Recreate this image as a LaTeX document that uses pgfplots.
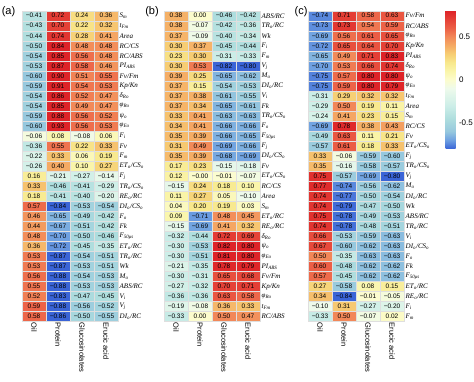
\documentclass[border=0pt]{standalone}
\usepackage{fontspec}
\setmainfont{Liberation Serif}
\setsansfont{Liberation Sans}
\usepackage{pgfplots}
\usepackage{pgfplotstable}
\pgfplotsset{compat=1.18}

\pgfdeclareplotmark{cell}{\pgfpathrectangle{\pgfpoint{-12pt}{-5.015pt}}{\pgfpoint{24pt}{10.03pt}}\pgfusepathqfillstroke}
\def\fixminus#1{\edef\fmtmp{#1}\expandafter\fixminusA\fmtmp\relax}
\def\fixminusA#1#2\relax{\ifx-#1−#2\else#1#2\fi}
\newcommand\s[2]{#1\textsubscript{#2}}

\pgfplotstableread{
c0 c1 c2 c3
-0.41 0.72 0.24 0.36
-0.43 0.70 0.22 0.32
-0.44 0.74 0.28 0.41
-0.50 0.84 0.48 0.48
-0.54 0.85 0.56 0.48
-0.53 0.87 0.58 0.46
-0.60 0.90 0.51 0.55
-0.59 0.91 0.54 0.53
-0.54 0.86 0.52 0.47
-0.54 0.85 0.49 0.47
-0.59 0.88 0.56 0.52
-0.60 0.93 0.56 0.53
-0.06 0.08 -0.08 0.06
-0.36 0.55 0.22 0.33
-0.22 0.33 0.06 0.19
-0.26 0.40 0.10 0.27
0.16 -0.21 -0.27 -0.14
0.33 -0.46 -0.41 -0.29
0.18 -0.41 -0.40 -0.20
0.57 -0.84 -0.53 -0.54
0.46 -0.65 -0.49 -0.42
0.44 -0.67 -0.51 -0.42
0.48 -0.70 -0.50 -0.46
0.36 -0.72 -0.45 -0.35
0.53 -0.87 -0.54 -0.51
0.53 -0.87 -0.53 -0.51
0.56 -0.88 -0.54 -0.53
0.55 -0.88 -0.53 -0.53
0.52 -0.83 -0.47 -0.45
0.59 -0.88 -0.56 -0.52
0.58 -0.86 -0.50 -0.55
}\tabA

\pgfplotstableread{
c0 c1 c2 c3
0.38 0.00 -0.46 -0.42
0.38 -0.07 -0.42 -0.36
0.37 -0.09 -0.40 -0.34
0.30 0.37 -0.45 -0.44
0.23 0.30 -0.31 -0.33
0.30 0.53 -0.82 -0.80
0.39 0.25 -0.65 -0.62
0.37 0.15 -0.54 -0.53
0.37 0.38 -0.61 -0.55
0.37 0.34 -0.65 -0.61
0.33 0.41 -0.63 -0.63
0.34 0.41 -0.66 -0.66
0.35 0.39 -0.66 -0.65
0.31 0.49 -0.69 -0.66
0.35 0.39 -0.68 -0.69
0.17 0.23 -0.15 -0.18
0.12 -0.00 -0.01 -0.07
-0.15 0.24 0.18 0.10
0.11 0.27 0.05 -0.10
0.04 0.20 0.19 0.03
0.09 -0.71 0.48 0.45
-0.15 -0.69 0.41 0.32
-0.32 -0.44 0.72 0.69
-0.30 -0.53 0.82 0.80
-0.30 -0.51 0.81 0.80
-0.21 -0.35 0.78 0.79
-0.30 -0.31 0.65 0.68
-0.27 -0.32 0.70 0.71
-0.36 -0.36 0.63 0.58
-0.19 -0.08 0.36 0.33
-0.33 0.00 0.50 0.47
}\tabB

\pgfplotstableread{
c0 c1 c2 c3
-0.74 0.71 0.58 0.63
-0.73 0.73 0.54 0.59
-0.69 0.56 0.61 0.65
-0.72 0.65 0.64 0.70
-0.65 0.49 0.71 0.83
-0.70 0.53 0.66 0.74
-0.75 0.57 0.80 0.80
-0.75 0.59 0.80 0.79
-0.31 0.29 0.32 0.32
-0.29 0.50 0.19 0.11
-0.24 0.41 0.23 0.15
-0.69 0.78 0.38 0.43
-0.49 0.63 0.11 0.21
-0.57 0.61 0.18 0.33
0.33 -0.06 -0.59 -0.60
0.35 -0.16 -0.58 -0.57
0.75 -0.57 -0.69 -0.80
0.77 -0.74 -0.56 -0.62
0.74 -0.77 -0.50 -0.54
0.74 -0.79 -0.47 -0.50
0.75 -0.78 -0.49 -0.53
0.74 -0.78 -0.48 -0.51
0.66 -0.53 -0.59 -0.63
0.67 -0.60 -0.62 -0.63
0.50 -0.35 -0.63 -0.63
0.60 -0.48 -0.62 -0.62
0.57 -0.45 -0.62 -0.62
0.27 -0.58 0.08 0.15
0.34 -0.84 -0.01 -0.05
-0.10 0.31 -0.27 -0.20
-0.33 0.50 -0.07 0.02
}\tabC

\pgfplotsset{
  heat/.style={
    x=24pt, y=10.03pt, xmin=-0.5, xmax=3.5, ymin=-30.5, ymax=0.5,
    clip=false, anchor=north west,
    axis line style={draw=none}, major tick length=0pt,
    xtick={0,1,2,3}, xticklabels={Oil,Protein,Glucosinolates,Erucic acid},
    xticklabel style={rotate=-90, anchor=west, font=\sffamily\fontsize{7.5}{8}\selectfont, inner sep=1pt},
    ytick={-30,-29,...,0}, yticklabel pos=right,
    yticklabel style={font=\rmfamily\itshape\fontsize{7}{8}\selectfont, anchor=west, inner sep=1.5pt},
    colormap={heat}{rgb255(0pt)=(58,100,215); rgb255(10pt)=(110,160,225); rgb255(20pt)=(150,200,222); rgb255(35pt)=(175,222,222); rgb255(50pt)=(205,238,232); rgb255(70pt)=(238,250,235); rgb255(80pt)=(252,252,205); rgb255(90pt)=(250,245,170); rgb255(100pt)=(248,232,140); rgb255(110pt)=(247,205,115); rgb255(120pt)=(245,170,100); rgb255(130pt)=(242,135,88); rgb255(140pt)=(236,95,70); rgb255(160pt)=(222,35,40)},
    point meta min=-0.8, point meta max=0.8,
  },
  cellplot/.style={scatter, only marks, mark=cell, mark options={line width=0.4pt}, point meta=explicit,
      scatter/use mapped color={draw=white!75!gray, fill=mapped color}},
  labplot/.style={only marks, mark=none, point meta=explicit symbolic,
      nodes near coords={\fixminus{\pgfplotspointmeta}},
      nodes near coords align=center,
      every node near coord/.append style={font=\sffamily\fontsize{6.5}{7}\selectfont, text=black, anchor=center, inner sep=0pt}},
}

\newcommand\col[2]{%
  \addplot[cellplot] table[x expr=#2, y expr=-\coordindex, meta=c#2]{#1};
  \addplot[labplot] table[x expr=#2, y expr=-\coordindex, meta=c#2]{#1};
}

\begin{document}
\begin{tikzpicture}
\useasboundingbox (0,0) rectangle (474pt,-381pt);

\begin{axis}[heat, at={(22pt,-10.7pt)},
  yticklabels={\s{DI}{o}/RC, \s{V}{j}, \s{V}{i}, ABS/RC, \s{M}{o}, Wk, \s{TR}{o}/RC, \s{ET}{o}/RC, \s{F}{50μs}, Fk, \s{F}{o}, \s{DI}{o}/\s{CS}{o}, \s{RE}{o}/RC, \s{TR}{o}/\s{CS}{o}, \s{F}{j}, \s{ET}{o}/\s{CS}{o}, \s{F}{m}, Fv, \s{F}{i}, \s{φ}{Eo}, \s{ψ}{o}, \s{φ}{Ro}, \s{δ}{Ro}, Kp/Kn, Fv/Fm, \s{PI}{ABS}, RC/ABS, RC/CS, Area, \s{t}{Fm}, \s{S}{m}}]
\col{\tabA}{0}\col{\tabA}{1}\col{\tabA}{2}\col{\tabA}{3}
\end{axis}

\begin{axis}[heat, at={(164pt,-10.7pt)},
  yticklabels={RC/ABS, \s{t}{Fm}, \s{φ}{Ro}, Kp/Kn, Fv/Fm, \s{PI}{ABS}, \s{φ}{Eo}, \s{ψ}{o}, \s{δ}{Ro}, \s{RE}{o}/RC, \s{ET}{o}/RC, \s{S}{m}, Area, RC/CS, \s{ET}{o}/\s{CS}{o}, Fv, \s{DI}{o}/\s{CS}{o}, \s{F}{j}, \s{F}{50μs}, \s{F}{o}, \s{TR}{o}/\s{CS}{o}, Fk, \s{V}{i}, \s{DI}{o}/RC, \s{M}{o}, \s{V}{j}, \s{F}{m}, \s{F}{i}, Wk, \s{TR}{o}/RC, ABS/RC}]
\col{\tabB}{0}\col{\tabB}{1}\col{\tabB}{2}\col{\tabB}{3}
\end{axis}

\begin{axis}[heat, at={(308pt,-10.7pt)},
  yticklabels={\s{F}{m}, \s{F}{i}, \s{RE}{o}/RC, \s{ET}{o}/RC, \s{F}{50μs}, Fk, \s{F}{o}, \s{DI}{o}/\s{CS}{o}, \s{V}{i}, \s{TR}{o}/RC, ABS/RC, Wk, \s{DI}{o}/RC, \s{M}{o}, \s{V}{j}, \s{TR}{o}/\s{CS}{o}, \s{F}{j}, \s{ET}{o}/\s{CS}{o}, Fv, RC/CS, \s{S}{m}, Area, \s{t}{Fm}, \s{φ}{Eo}, \s{ψ}{o}, \s{δ}{Ro}, \s{PI}{ABS}, Kp/Kn, \s{φ}{Ro}, RC/ABS, Fv/Fm},
  colorbar,
  colorbar style={at={(parent axis.north east)}, anchor=north west, xshift=33pt,
    width=10pt, height=138pt, ytick={-0.5,0,0.5},
    yticklabel style={font=\sffamily\fontsize{8}{9}\selectfont, /pgf/number format/assume math mode=true},
    major tick length=0pt, axis line style={draw=none}}]
\col{\tabC}{0}\col{\tabC}{1}\col{\tabC}{2}\col{\tabC}{3}
\end{axis}

\node[font=\sffamily\fontsize{11}{12}\selectfont] at (8.5pt,-12pt) {(a)};
\node[font=\sffamily\fontsize{11}{12}\selectfont] at (152pt,-12pt) {(b)};
\node[font=\sffamily\fontsize{11}{12}\selectfont] at (301pt,-12pt) {(c)};
\end{tikzpicture}
\end{document}
